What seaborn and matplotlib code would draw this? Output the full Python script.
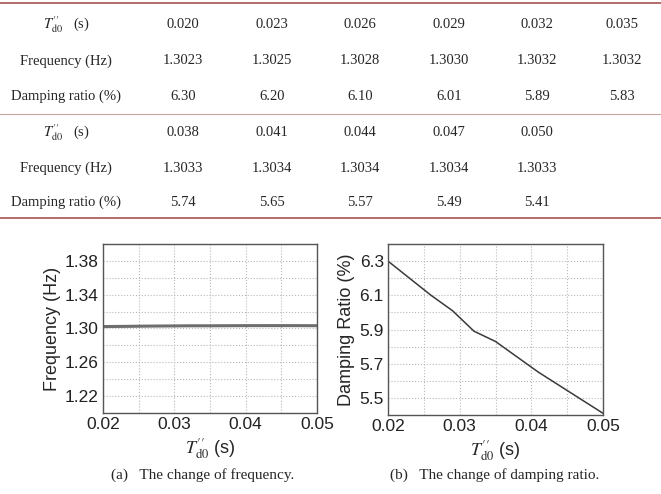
import numpy as np
import pandas as pd
import matplotlib
matplotlib.use("Agg")
import matplotlib.pyplot as plt
from matplotlib.ticker import MultipleLocator
import seaborn as sns

t_d0 = [0.020, 0.023, 0.026, 0.029, 0.032, 0.035, 0.038, 0.041, 0.044, 0.047, 0.050]
t_labels = ["0.020", "0.023", "0.026", "0.029", "0.032", "0.035",
            "0.038", "0.041", "0.044", "0.047", "0.050"]
freq = [1.3023, 1.3025, 1.3028, 1.3030, 1.3032, 1.3032,
        1.3033, 1.3034, 1.3034, 1.3034, 1.3033]
freq_labels = ["1.3023", "1.3025", "1.3028", "1.3030", "1.3032", "1.3032",
               "1.3033", "1.3034", "1.3034", "1.3034", "1.3033"]
damping = [6.30, 6.20, 6.10, 6.01, 5.89, 5.83, 5.74, 5.65, 5.57, 5.49, 5.41]
damp_labels = ["6.30", "6.20", "6.10", "6.01", "5.89", "5.83",
               "5.74", "5.65", "5.57", "5.49", "5.41"]
T_SYM = r"$T^{\prime\prime}_{\mathrm{d0}}$"
row_names = [T_SYM + "   (s)", "Frequency (Hz)", "Damping ratio (%)"]

df = pd.DataFrame({"t": t_d0, "freq": freq, "damping": damping})

sns.set_style("white")
plt.rcParams["font.family"] = ["Liberation Sans", "DejaVu Sans"]
plt.rcParams["mathtext.fontset"] = "stix"

W, H = 661, 494
fig = plt.figure(figsize=(6.61, 4.94), dpi=100)

def fx(px):
    return px / W

def fy(py):
    return 1 - py / H

# ---- table ----
rule = "#a4544f"
serif = ["Liberation Serif", "DejaVu Serif"]
col_x = [183, 272, 360, 449, 537, 622]
label_x = 66
blocks = [(0, 6, [25, 61, 96]), (6, 11, [133, 168, 202])]
for start, stop, rows_y in blocks:
    cols = [t_labels[start:stop], freq_labels[start:stop], damp_labels[start:stop]]
    for name, vals, yy in zip(row_names, cols, rows_y):
        fig.text(fx(label_x), fy(yy), name, ha="center", va="center",
                 family=serif, fontsize=10.5)
        for x, v in zip(col_x, vals):
            fig.text(fx(x), fy(yy), v, ha="center", va="center",
                     family=serif, fontsize=10.5)

for yy, lw, c in [(3, 1.2, rule), (114, 0.8, "#c9a5a2"), (218, 1.2, rule)]:
    fig.add_artist(plt.Line2D([0, 1], [fy(yy), fy(yy)], color=c, lw=lw,
                              transform=fig.transFigure))

# ---- plots ----
ax1 = fig.add_axes([fx(103), fy(413), fx(317 - 103), (413 - 244) / H])
ax2 = fig.add_axes([fx(388), fy(415), fx(603 - 388), (415 - 244) / H])

sns.lineplot(data=df, x="t", y="freq", ax=ax1, color="#6e6e6e", lw=2.2)
sns.lineplot(data=df, x="t", y="damping", ax=ax2, color="#3a3a3a", lw=1.1)

ax1.set_ylim(1.20, 1.40)
ax1.set_yticks([1.22, 1.26, 1.30, 1.34, 1.38])
ax1.yaxis.set_minor_locator(MultipleLocator(0.02))
ax1.set_ylabel("Frequency (Hz)", fontsize=13, labelpad=3)

ax2.set_ylim(5.4, 6.4)
ax2.set_yticks([5.5, 5.7, 5.9, 6.1, 6.3])
ax2.yaxis.set_minor_locator(MultipleLocator(0.1))
ax2.set_ylabel("Damping Ratio (%)", fontsize=13, labelpad=3)

for ax in (ax1, ax2):
    ax.set_xlim(0.02, 0.05)
    ax.set_xticks([0.02, 0.03, 0.04, 0.05])
    ax.set_xticklabels(["0.02", "0.03", "0.04", "0.05"])
    ax.xaxis.set_minor_locator(MultipleLocator(0.005))
    ax.grid(True, which="both", ls=":", color="#b8b8b8", lw=0.8)
    ax.tick_params(which="both", direction="in", length=2, labelsize=12.5,
                   pad=3, colors="#222222")
    ax.tick_params(which="minor", length=0)
    for s in ax.spines.values():
        s.set_color("#555555")
        s.set_linewidth(1.0)
    ax.set_xlabel(T_SYM + " (s)", fontsize=13, labelpad=3)

fig.text(fx(203), fy(475), "(a)   The change of frequency.", ha="center",
         va="center", family=serif, fontsize=11)
fig.text(fx(495), fy(475), "(b)   The change of damping ratio.", ha="center",
         va="center", family=serif, fontsize=11)

fig.savefig("out.png", dpi=100)
